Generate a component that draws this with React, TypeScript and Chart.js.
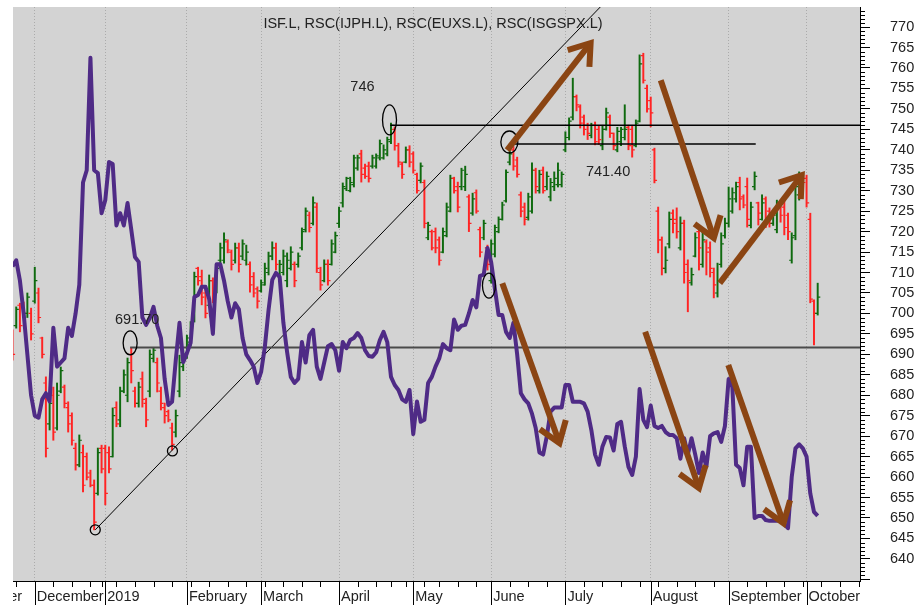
import React, { useEffect, useRef } from 'react';
import { Chart, registerables } from 'chart.js';

Chart.register(...registerables);

const TITLE = 'ISF.L, RSC(IJPH.L), RSC(EUXS.L), RSC(ISGSPX.L)';

// One entry per trading day, index 0 = 23 Nov 2018
const OPEN = [
  695, 697, 702, 702, 700, 700, 703, 705, 694, 683, 673, 680, 672, 681, 682, 677, 675, 667, 663, 666,
  665, 661, 658, 656, 667, 667, 666, 665, 677, 674, 681, 680, 690, 681, 678, 684, 678, 681, 689, 688,
  681, 677, 676, 672, 671, 681, 687, 690, 693, 699, 711, 709, 705, 702, 708, 706, 713, 713, 717.5, 715,
  713, 716, 714, 713, 712, 709, 706, 705.5, 707, 710, 714, 716, 709, 710, 708, 711, 712, 712, 716, 720.5,
  724, 722, 726, 710, 708, 712, 712, 715, 722, 727, 730.5, 730, 731.5, 735.5, 739, 735.5, 736, 736, 736, 738,
  738, 739, 742, 745, 741, 736.5, 737, 740, 739, 734, 732.5, 732, 718.5, 720, 720, 718, 715, 719, 725, 733,
  731, 731, 731, 728.5, 724.5, 729.5, 720.5, 718.5, 716, 708, 714.5, 720, 723, 727.5, 737, 740, 737.5, 729, 726, 723.5,
  725, 735, 730, 735, 731, 728.5, 731, 731.5, 731.5, 740, 743, 748, 753, 750.5, 748, 746, 743.5, 746, 745, 741,
  745, 748, 744, 740, 742, 743, 745.5, 745, 741, 747, 763, 755, 752, 740, 725, 718, 711, 717, 724.5, 723,
  716, 722, 712, 707.5, 714, 720, 712, 717.5, 716, 710, 705, 712, 719, 722, 725, 728, 732, 728.5, 731, 721.5,
  731, 727, 723, 728, 725, 722, 720.5, 727, 726, 724, 713, 719, 729, 734, 733, 723, 703, 700
];
const HIGH = [
  696, 701.6, 702.5, 702.8, 705, 701.3, 711.3, 706.2, 694.2, 684.5, 679.6, 682, 683, 686.9, 682.5, 678.4, 675.7, 668.3, 670.3, 667.8,
  665.9, 661.7, 659.3, 667.1, 667.8, 667.8, 667.4, 676.9, 678.4, 682, 686.2, 689.1, 691.7, 682, 683.2, 685.7, 679.3, 691.1, 691.6, 689.1,
  682, 678.1, 676.4, 673.2, 676.4, 689.8, 691.1, 694.7, 698, 710.1, 711.3, 710.6, 706.5, 709.4, 708.7, 711.8, 717.2, 719.7, 718, 715.5,
  717.2, 717.2, 718, 716.7, 712.6, 710, 706.5, 708.2, 712.3, 715, 717.5, 717.2, 713, 715.5, 714.8, 716.3, 712.6, 714.8, 720.9, 725.8,
  724.8, 728.5, 727, 711.3, 713.1, 713.1, 718, 719.9, 726, 731.9, 733.3, 733.3, 738.7, 738.7, 739.9, 736.5, 737, 738.7, 739, 742.4,
  741.2, 743.1, 746.5, 745.6, 741.6, 737, 740.7, 741, 739.5, 734.3, 736.8, 732.6, 722.3, 720.4, 720.9, 718.7, 720.9, 727, 733.8, 733.3,
  732.1, 735.5, 736, 729, 729.4, 730.2, 721.1, 722.8, 716.7, 718, 721.6, 723.6, 727.2, 735.1, 741.4, 740.8, 738.2, 729.7, 727, 729.4,
  736.8, 735.5, 735, 735.8, 734.6, 733, 734.6, 736.8, 734.6, 744.4, 747.8, 757.5, 753.4, 751, 748.5, 746.5, 746.5, 746.8, 745.8, 746,
  750.2, 748.5, 744.1, 745.5, 745.5, 751, 746, 746, 747.3, 763.2, 763.6, 755.8, 752.9, 740.4, 726, 718.7, 716.3, 724.8, 725.3, 725.8,
  723.6, 722.8, 713.1, 711.1, 719.7, 721.1, 719.9, 718, 717.5, 711.1, 712.3, 719.7, 723.3, 730.9, 730.7, 732.1, 733.3, 729, 733.1, 727.2,
  734.6, 727.2, 729, 728.5, 725.8, 724.5, 727.7, 727.7, 727.7, 724.5, 719.7, 733.3, 734.6, 734.3, 733.8, 724.5, 703.3, 707.4
];
const LOW = [
  688.6, 696.4, 695.5, 699.1, 699, 693.5, 702.5, 697.7, 689.1, 664.9, 671.5, 669, 671.5, 680.6, 676.9, 671, 667.8, 661.7, 662.5, 656.4,
  659.3, 657.6, 647.1, 655.6, 661, 653.2, 661, 664.9, 672.3, 672.3, 680.6, 678.4, 683, 677.1, 677.1, 677.1, 672.3, 679.6, 688.1, 680.8,
  676.4, 673.2, 673.5, 666.6, 669.8, 679.6, 686, 689, 692, 697.9, 706.9, 702.1, 698.9, 701.6, 702.6, 705, 712.3, 712.3, 714.8, 710.6,
  712.3, 710.1, 713.1, 711.8, 705.2, 704, 701.3, 705.2, 706.9, 709.4, 713.1, 710.6, 708, 709.4, 706.5, 710.6, 706.5, 711.3, 715.5, 719.9,
  719.9, 721.6, 710, 705.7, 707.7, 706.9, 711.8, 714.8, 721, 726, 730, 729.7, 730.9, 735, 732.1, 733, 732.1, 735.5, 735.5, 737.5,
  737.7, 738.5, 741.5, 739.9, 735.8, 733, 736.8, 735.8, 734.3, 729.4, 731.9, 720.9, 718, 715.5, 714.8, 711.8, 714.8, 718.7, 724.8, 729.4,
  724.8, 730.2, 730, 720, 724, 724.5, 713.8, 718, 710.6, 707.4, 713.8, 719.7, 722.8, 727.2, 736.3, 735, 733.3, 723.6, 721.6, 722.8,
  724.5, 729.4, 729.4, 729.4, 730.2, 727.5, 730, 730.9, 730.9, 739.5, 742.4, 747.3, 749.5, 745.3, 743.6, 742.5, 742.9, 741.2, 741.3, 740,
  744.8, 743, 740, 739.5, 741, 742.4, 740, 738.2, 740.7, 746.8, 756.3, 749.2, 745.6, 731.9, 714.8, 709.4, 709.9, 716, 719.7, 718.4,
  715.5, 707.4, 700.4, 706.9, 713.8, 710.6, 711.3, 709.4, 708.9, 703.8, 704, 711.3, 718.4, 721.1, 724.5, 727.2, 725.3, 725.8, 721.1, 720.9,
  730.2, 721.6, 722.8, 721, 721.1, 721.5, 719.7, 722.3, 719.2, 718, 712.3, 718, 727.7, 730.9, 726, 702.6, 692.3, 699.6
];
const CLOSE = [
  690, 701, 697, 700, 704, 695, 708, 699, 690, 667, 678, 671, 680, 686, 678, 673, 669, 663, 669, 658,
  660, 658, 649, 666, 662, 656, 662, 675, 673, 681, 685, 688, 686, 678, 682, 679, 674, 690, 691, 683,
  678, 675, 674, 668, 675, 688, 690, 694, 697, 709, 708, 704, 700, 708, 704, 711, 716, 718, 715.5, 712,
  716, 712, 717, 715, 707, 705, 703, 707.5, 711, 714, 716, 712, 712, 714, 713, 715, 708, 714, 720, 725,
  721, 727, 711, 707, 712, 708, 717, 719, 725, 731, 733, 732, 738, 738, 734, 733.5, 733, 738, 738.5, 741.5,
  740, 742.5, 746, 741, 737, 734, 740, 737, 735, 730, 736, 722, 721.5, 716, 716, 713, 720, 726, 733, 730,
  726, 735, 734, 722, 728, 725, 715, 722, 712, 717, 721, 723, 726.5, 734.5, 739, 736, 734, 725, 723, 728.5,
  735, 731, 734, 730, 733.5, 732, 733, 735, 734, 743, 747, 753, 751, 746.5, 745, 744, 746, 742, 742.5, 745,
  749, 744, 741, 744.5, 745, 745, 741, 740, 746.5, 761, 757, 750, 749, 732.5, 718, 711, 713, 723, 722, 720,
  722, 710, 708, 709.5, 718.5, 716, 718, 715, 711, 707, 708, 717, 722, 728, 729.5, 731, 728, 726.5, 723, 726,
  733.5, 724.5, 727, 723, 722, 724, 727, 724, 721, 720, 718.5, 731, 733.5, 732, 727, 703.5, 700, 704
];
// Relative strength line
const RSC = [
  711.5, 713, 708, 700, 690, 680, 675, 674.5, 679, 680.5, 678.5, 696.5, 687, 688, 689, 696.5, 694.5, 700, 707, 732,
  735, 762.5, 735, 734.3, 724.5, 727.7, 737, 736.5, 721.5, 724.5, 721.5, 727, 720.5, 713.8, 712.6, 699, 697.2, 698.9, 701.6, 697,
  694, 684, 677.6, 678.4, 688.6, 697.7, 688.1, 690.3, 692.8, 704, 704.5, 706.5, 706.5, 703.5, 695, 712, 712, 708, 703, 699,
  702.5, 701, 694, 690, 688.6, 687, 683, 685.7, 691.8, 700.8, 708.2, 709.9, 708.9, 697.7, 690.6, 684.5, 683, 684, 693, 688,
  694.7, 696, 687, 684, 688, 692, 692.5, 691, 686, 693, 691.5, 693.5, 694, 695.2, 694, 691, 689.6, 689.4, 690.5, 693.5,
  695.5, 693, 684.5, 682.5, 681.3, 679, 678.4, 681.3, 670.5, 678.5, 673.5, 674, 683, 684.5, 687, 689, 692.5, 691.5, 691, 698.5,
  696, 697, 697.2, 700, 703.3, 701.5, 709.2, 709.5, 716, 712.5, 706, 699.6, 699.6, 695.5, 694, 697.7, 690, 680.5, 679, 678,
  675.5, 672, 666, 665.5, 670, 676, 677, 677, 677, 682.5, 682.5, 678.4, 678.4, 678.4, 678, 676, 671.5, 665.5, 663, 667.5,
  669.8, 669.7, 666.5, 673, 673.5, 667.5, 662.5, 660.5, 665, 681.5, 674, 672.2, 677.5, 672.5, 672, 672.5, 671, 670.3, 670.3, 669.5,
  664.5, 669.5, 665.5, 669.5, 665.5, 661, 666, 662.5, 670, 670.7, 671, 668.6, 672.5, 684, 682, 663, 662.2, 658, 667.4, 667.4,
  650, 650.5, 650.5, 649.5, 649.3, 649.3, 649.3, 650, 648.5, 647.5, 660, 667, 668, 667, 665, 656, 651.5, 650.5
];

const MONTH_LABELS = ['November', 'December', '2019', 'February', 'March', 'April', 'May', 'June', 'July', 'August', 'September', 'October'];
const MONTH_START = [-16, 6, 25, 47, 67, 88, 108, 129, 149, 172, 193, 214];
const WEEK_START = [1, 11, 16, 21, 24, 28, 33, 38, 43, 48, 53, 58, 63, 68, 73, 78, 83, 93, 98, 102, 106, 111, 115, 120, 125,
  134, 139, 144, 154, 159, 164, 169, 174, 179, 184, 189, 198, 203, 208, 213, 218, 223, 228];
const Y_TICKS = [640, 645, 650, 655, 660, 665, 670, 675, 680, 685, 690, 695, 700, 705, 710, 715, 720, 725, 730, 735, 740, 745, 750, 755, 760, 765, 770];
const X_MIN = 0.13, X_MAX = 228.4, Y_MIN = 634.6, Y_MAX = 774.9;

// Annotations (in data units: trading-day index, price)
const LEVEL_VALUE = [746, 741.4, 691.7];
const LEVEL_FROM = [101.8, 134.2, 31.7];
const LEVEL_TO = [228.4, 200.3, 228.4];
const TREND_X = [22.3, 160];
const TREND_Y = [647.1, 776.4];
const MARK_X = [22.3, 43.1, 31.7, 101.6, 133.9, 128.4];
const MARK_Y = [647.1, 666.4, 692.8, 747.3, 741.9, 706.8];
const NOTE_TEXT = ['746', '691.70', '741.40'];
const NOTE_X = [94.3, 33.6, 160.5];
const NOTE_Y = [755.3, 698.4, 734.6];
const ARROW_X0 = [133.3, 174.7, 190.6, 132.0, 170.5, 192.9];
const ARROW_Y0 = [739.9, 757.0, 707.4, 707.4, 695.5, 687.4];
const ARROW_X1 = [155.8, 189.0, 212.7, 147.4, 185.0, 207.8];
const ARROW_Y1 = [766.1, 718.4, 733.8, 668.3, 657.3, 648.7];

const FONT = '"Liberation Sans", Arial, Helvetica, sans-serif';
const UP = '#0f6a0f';
const DOWN = '#ff2424';
const PURPLE = '#4f2b86';
const BROWN = '#8b4513';
const BG = '#d3d3d3';

export default function App() {
  const ref = useRef<HTMLCanvasElement>(null);

  useEffect(() => {
    document.body.style.margin = '0';
    const canvas = ref.current;
    if (!canvas) return;
    const isUp = (i: number) => CLOSE[i] >= OPEN[i];

    const decor = {
      id: 'decor',
      beforeDraw(chart: any) {
        const { ctx, chartArea: a } = chart;
        ctx.save();
        ctx.fillStyle = '#ffffff';
        ctx.fillRect(0, 0, chart.width, chart.height);
        ctx.fillStyle = BG;
        ctx.fillRect(a.left, a.top, a.right - a.left, a.bottom - a.top);
        ctx.restore();
      },
      afterDatasetDraw(chart: any, args: any) {
        if (args.index !== 0) return;
        const { ctx, chartArea: a } = chart;
        const xs = chart.scales.x, ys = chart.scales.y;
        ctx.save();
        ctx.beginPath();
        ctx.rect(a.left, a.top, a.right - a.left, a.bottom - a.top);
        ctx.clip();
        ctx.lineWidth = 1.2;
        for (let i = 0; i < OPEN.length; i++) {
          const px = xs.getPixelForValue(i);
          const yo = ys.getPixelForValue(OPEN[i]);
          const yc = ys.getPixelForValue(CLOSE[i]);
          ctx.strokeStyle = isUp(i) ? UP : DOWN;
          ctx.beginPath();
          ctx.moveTo(px - 2.6, yo);
          ctx.lineTo(px, yo);
          ctx.moveTo(px, yc);
          ctx.lineTo(px + 2.6, yc);
          ctx.stroke();
        }
        ctx.restore();
      },
      afterDatasetsDraw(chart: any) {
        const { ctx } = chart;
        const xs = chart.scales.x, ys = chart.scales.y;
        const radii = [[5, 5], [5, 5], [7, 12], [7, 15], [8.5, 11], [6.5, 12.5]];
        ctx.save();
        ctx.strokeStyle = '#000';
        ctx.lineWidth = 1.3;
        MARK_X.forEach((mx, k) => {
          ctx.beginPath();
          ctx.ellipse(xs.getPixelForValue(mx), ys.getPixelForValue(MARK_Y[k]), radii[k][0], radii[k][1], 0, 0, Math.PI * 2);
          ctx.stroke();
        });
        ctx.fillStyle = '#222';
        ctx.font = `14.5px ${FONT}`;
        ctx.textAlign = 'center';
        ctx.textBaseline = 'middle';
        NOTE_TEXT.forEach((t, k) => {
          ctx.fillText(t, xs.getPixelForValue(NOTE_X[k]), ys.getPixelForValue(NOTE_Y[k]));
        });
        // arrows
        ctx.strokeStyle = BROWN;
        ctx.lineWidth = 6;
        ctx.lineCap = 'butt';
        ctx.lineJoin = 'miter';
        const ang = (35 * Math.PI) / 180;
        const len = 24;
        ARROW_X0.forEach((ax, k) => {
          const x0 = xs.getPixelForValue(ax), y0 = ys.getPixelForValue(ARROW_Y0[k]);
          const x1 = xs.getPixelForValue(ARROW_X1[k]), y1 = ys.getPixelForValue(ARROW_Y1[k]);
          const d = Math.hypot(x0 - x1, y0 - y1);
          const ux = (x0 - x1) / d, uy = (y0 - y1) / d;
          ctx.beginPath();
          ctx.moveTo(x0, y0);
          ctx.lineTo(x1 + ux * 3, y1 + uy * 3);
          ctx.stroke();
          const c = Math.cos(ang), s = Math.sin(ang);
          const ax1 = x1 + len * (ux * c - uy * s), ay1 = y1 + len * (ux * s + uy * c);
          const ax2 = x1 + len * (ux * c + uy * s), ay2 = y1 + len * (-ux * s + uy * c);
          ctx.beginPath();
          ctx.moveTo(ax1, ay1);
          ctx.lineTo(x1, y1);
          ctx.lineTo(ax2, ay2);
          ctx.stroke();
        });
        ctx.restore();
      },
      afterDraw(chart: any) {
        const { ctx, chartArea: a } = chart;
        const xs = chart.scales.x, ys = chart.scales.y;
        const H = chart.height;
        ctx.save();
        ctx.strokeStyle = '#000';
        ctx.lineWidth = 1;
        ctx.beginPath();
        MONTH_START.forEach((m) => {
          const px = Math.round(xs.getPixelForValue(m)) + 0.5;
          if (px < a.left || px > a.right) return;
          ctx.moveTo(px, a.bottom);
          ctx.lineTo(px, H);
        });
        WEEK_START.forEach((w) => {
          const px = Math.round(xs.getPixelForValue(w)) + 0.5;
          if (px < a.left || px > a.right + 1) return;
          ctx.moveTo(px, a.bottom);
          ctx.lineTo(px, a.bottom + 6);
        });
        // minor ticks on the price axis
        for (let v = Math.ceil(Y_MIN); v <= Math.floor(Y_MAX); v++) {
          if (v % 5 === 0 && Y_TICKS.indexOf(v) >= 0) continue;
          const py = Math.round(ys.getPixelForValue(v)) + 0.5;
          ctx.moveTo(a.right, py);
          ctx.lineTo(a.right + (v % 5 === 0 ? 10 : 5), py);
        }
        ctx.stroke();
        // month labels
        ctx.save();
        ctx.beginPath();
        ctx.rect(a.left, a.bottom, a.right - a.left, H - a.bottom);
        ctx.clip();
        ctx.fillStyle = '#222';
        ctx.font = `14.5px ${FONT}`;
        ctx.textAlign = 'left';
        ctx.textBaseline = 'alphabetic';
        MONTH_LABELS.forEach((t, k) => {
          ctx.fillText(t, xs.getPixelForValue(MONTH_START[k]) + 2, H - 4);
        });
        ctx.restore();
        // title
        ctx.fillStyle = '#222';
        ctx.font = `14.5px ${FONT}`;
        ctx.textAlign = 'center';
        ctx.textBaseline = 'alphabetic';
        ctx.fillText(TITLE, 433, 28);
        ctx.restore();
      },
    };

    const levelSets = LEVEL_VALUE.map((v, k) => ({
      type: 'line',
      data: [{ x: LEVEL_FROM[k], y: v }, { x: LEVEL_TO[k], y: v }],
      borderColor: k === 2 ? '#4a4a4a' : '#000000',
      borderWidth: k === 2 ? 2 : 1.4,
      pointRadius: 0,
      order: 5,
    }));

    const chart = new Chart(canvas, {
      type: 'line',
      data: {
        datasets: [
          {
            type: 'bar',
            data: HIGH.map((h, i) => ({ x: i, y: [LOW[i], h] })),
            backgroundColor: HIGH.map((_, i) => (isUp(i) ? UP : DOWN)),
            borderWidth: 0,
            barThickness: 1.3,
            order: 10,
          } as any,
          ...levelSets,
          {
            type: 'line',
            data: TREND_X.map((x, i) => ({ x, y: TREND_Y[i] })),
            borderColor: '#000',
            borderWidth: 1,
            pointRadius: 0,
            order: 5,
          },
          {
            type: 'line',
            data: RSC.map((v, i) => ({ x: i, y: v })),
            borderColor: PURPLE,
            borderWidth: 4,
            pointRadius: 0,
            tension: 0,
            borderJoinStyle: 'round',
            order: 1,
          },
        ] as any,
      },
      options: {
        responsive: false,
        animation: false,
        devicePixelRatio: 1,
        events: [],
        layout: { padding: { left: 13, top: 7, right: 0, bottom: 0 } },
        plugins: { legend: { display: false }, tooltip: { enabled: false }, title: { display: false } },
        scales: {
          x: {
            type: 'linear',
            min: X_MIN,
            max: X_MAX,
            offset: false,
            afterBuildTicks: (s: any) => {
              s.ticks = MONTH_START.slice(1).map((v) => ({ value: v }));
            },
            afterFit: (s: any) => {
              s.height = 24;
              s.paddingLeft = 0;
              s.paddingRight = 0;
              s.paddingTop = 0;
              s.paddingBottom = 0;
            },
            ticks: { display: false },
            grid: { display: true, drawOnChartArea: true, drawTicks: false, color: '#ababab', lineWidth: 1, offset: false },
            border: { display: true, color: '#000', width: 1, dash: [1, 2] },
          },
          y: {
            type: 'linear',
            position: 'right',
            min: Y_MIN,
            max: Y_MAX,
            afterBuildTicks: (s: any) => {
              s.ticks = Y_TICKS.map((v) => ({ value: v }));
            },
            afterFit: (s: any) => {
              s.width = 57;
              s.paddingLeft = 0;
              s.paddingRight = 0;
              s.paddingTop = 0;
              s.paddingBottom = 0;
            },
            grid: { display: true, drawOnChartArea: false, drawTicks: true, tickLength: 10, tickColor: '#000', tickWidth: 1 },
            border: { display: true, color: '#000', width: 1 },
            ticks: {
              color: '#222',
              font: { family: FONT, size: 14.5 },
              padding: 20,
              callback: (v: any) => String(v),
            },
          },
        },
      } as any,
      plugins: [decor],
    });

    return () => chart.destroy();
  }, []);

  return (
    <div style={{ width: 917, height: 605 }}>
      <canvas ref={ref} width={917} height={605} style={{ display: 'block' }} />
    </div>
  );
}
